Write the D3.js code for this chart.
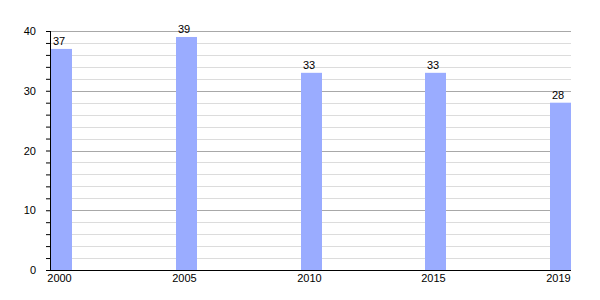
<!DOCTYPE html>
<html>
<head>
<meta charset="utf-8">
<script src="https://cdn.jsdelivr.net/npm/d3@7"></script>
<style>
  body { margin: 0; background: #fff; }
  svg text { font-family: "Liberation Sans", Arial, sans-serif; font-size: 11px; fill: #000; }
</style>
</head>
<body>
<div class="chart"></div>
<script>
// values
var years = ["2000", "2005", "2010", "2015", "2019"];
var values = [37, 39, 33, 33, 28];
var yTicks = [0, 10, 20, 30, 40];

var svgWidth = 600, svgHeight = 300;
var margin = {top: 31, right: 29, bottom: 30, left: 50};
var chart_width = svgWidth - margin.left - margin.right,
    chart_height = svgHeight - margin.top - margin.bottom;
var barWidth = 21;

var svg = d3.select(".chart")
  .append("svg")
    .attr("width", svgWidth)
    .attr("height", svgHeight);

var g = svg.append("g")
  .attr("transform", "translate(" + margin.left + "," + margin.top + ")");

var x = d3.scalePoint()
  .domain(years)
  .range([1, chart_width - barWidth]);

var y = d3.scaleLinear()
  .domain([0, 40])
  .range([chart_height, 0]);

// minor grid every 2
var minor = d3.range(0, 41, 2).filter(function(d) { return d % 10 != 0; });
g.selectAll(".minor")
  .data(minor)
  .enter()
  .append("line")
    .attr("x1", 0).attr("x2", chart_width)
    .attr("y1", function(d) { return Math.round(y(d)) + 0.5; })
    .attr("y2", function(d) { return Math.round(y(d)) + 0.5; })
    .attr("stroke", "#dcdcdc");

g.selectAll(".major")
  .data(yTicks.slice(1))
  .enter()
  .append("line")
    .attr("x1", 0).attr("x2", chart_width)
    .attr("y1", function(d) { return Math.round(y(d)) + 0.5; })
    .attr("y2", function(d) { return Math.round(y(d)) + 0.5; })
    .attr("stroke", "#a8a8a8");

// bars
g.selectAll(".bar")
  .data(values)
  .enter()
  .append("rect")
    .attr("x", function(d, i) { return Math.round(x(years[i])); })
    .attr("y", function(d) { return y(d); })
    .attr("width", barWidth)
    .attr("height", function(d) { return chart_height - y(d); })
    .attr("fill", "#9aacff");

g.selectAll(".val")
  .data(values)
  .enter()
  .append("text")
    .attr("x", function(d, i) { return Math.round(x(years[i])) + 2; })
    .attr("y", function(d) { return y(d) - 4; })
    .text(function(d) { return d; });

// y axis with minor ticks
var yAxis = d3.axisLeft(y)
  .tickValues(d3.range(0, 41, 2))
  .tickSize(4)
  .tickFormat(function(d) { return d % 10 == 0 ? d : ""; })
  .tickPadding(10);

var ya = g.append("g").call(yAxis);
ya.select(".domain").attr("d", "M0.5," + chart_height + "V0");
ya.selectAll("text").attr("font-size", null).attr("font-family", null);

// x axis
g.append("line")
  .attr("x1", 0).attr("x2", chart_width)
  .attr("y1", chart_height + 0.5).attr("y2", chart_height + 0.5)
  .attr("stroke", "#000");

g.selectAll(".xlab")
  .data(years)
  .enter()
  .append("text")
    .attr("x", function(d) { return Math.round(x(d)) + barWidth / 2 - 2; })
    .attr("y", chart_height + 12)
    .attr("text-anchor", "middle")
    .text(function(d) { return d; });
</script>
</body>
</html>
